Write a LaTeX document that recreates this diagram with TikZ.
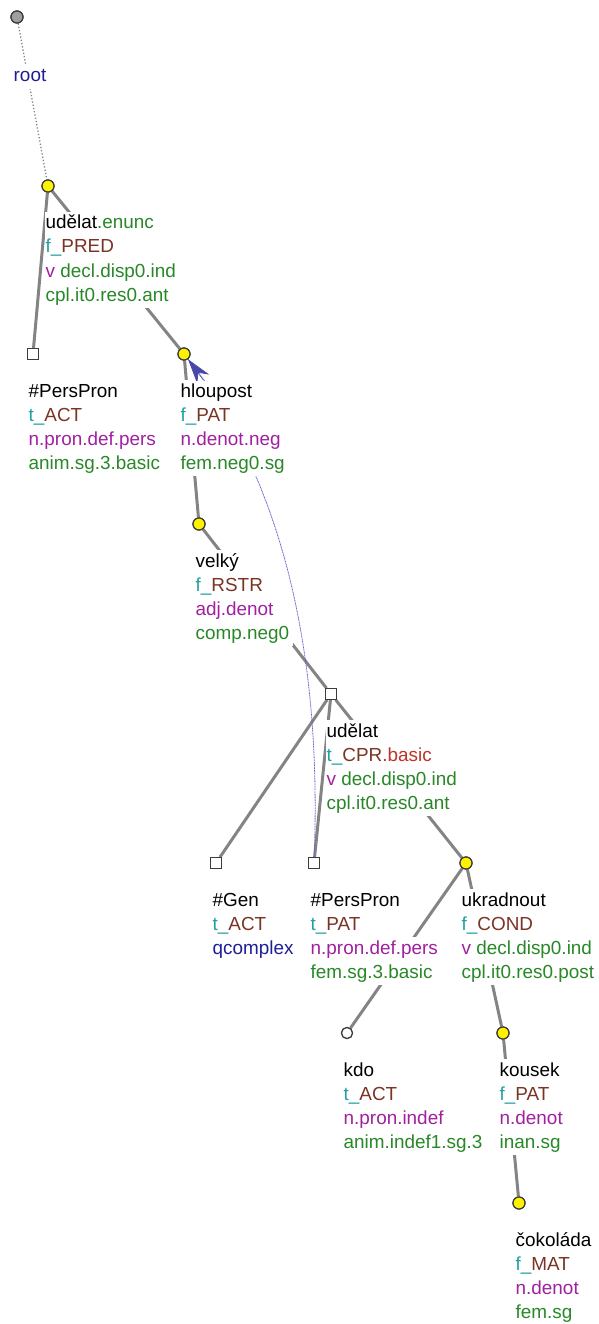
\documentclass[tikz,border=0pt]{standalone}
\usepackage{fontspec}
\setmainfont{Liberation Sans}
\usetikzlibrary{arrows.meta}
\pgfdeclarelayer{edges}
\pgfsetlayers{edges,main}
\definecolor{cteal}{RGB}{32,160,160}
\definecolor{cbrown}{RGB}{122,52,36}
\definecolor{cred}{RGB}{190,50,40}
\definecolor{cpurp}{RGB}{160,32,160}
\definecolor{cgreen}{RGB}{40,136,40}
\definecolor{cblue}{RGB}{30,30,150}
\definecolor{edgegray}{RGB}{132,132,132}
\definecolor{outl}{RGB}{60,60,60}
\definecolor{corefc}{RGB}{100,100,200}
\definecolor{arrowc}{RGB}{72,72,168}
\newcommand{\fu}[1]{\textcolor{cteal}{f\_}\textcolor{cbrown}{#1}}
\newcommand{\tu}[1]{\textcolor{cteal}{t\_}\textcolor{cbrown}{#1}}
\newcommand{\pu}[1]{\textcolor{cpurp}{#1}}
\newcommand{\gu}[1]{\textcolor{cgreen}{#1}}
\begin{document}
\begin{tikzpicture}[x=1pt,y=-1pt,
  lab/.style={anchor=base west, inner xsep=0.5pt, inner ysep=0pt, text height=17pt, text depth=7pt,
    fill=white, font=\fontsize{18.9}{22}\selectfont, execute at end node={\hspace*{3pt}}},
  edge/.style={draw=edgegray, line width=3pt},
  rootedge/.style={draw=edgegray, line width=1.3pt, dotted},
  yelnode/.style={circle, fill=yellow, draw=outl, line width=1.2pt, minimum size=12pt, inner sep=0pt},
  sqnode/.style={rectangle, fill=white, draw=outl, line width=1.2pt, minimum size=10.5pt, inner sep=0pt},
  whnode/.style={circle, fill=white, draw=outl, line width=1.2pt, minimum size=11pt, inner sep=0pt},
  rootnode/.style={circle, fill=gray!75, draw=outl, line width=1.2pt, minimum size=12pt, inner sep=0pt},
  coref/.style={draw=corefc, line width=0.8pt, dash pattern=on 1pt off 0.6pt},
  corefarrow/.style={draw=corefc, line width=0.8pt,
    -{Stealth[length=25pt, width=15pt, inset=8pt, color=arrowc]}}
]
\useasboundingbox (0,0) rectangle (598,1324);

% tree nodes (markers)
\node[rootnode] (n0) at (17,17) {};
\node[yelnode] (n1) at (48,186) {};
\node[sqnode] (n2) at (33,354) {};
\node[yelnode] (n3) at (184,354) {};
\node[yelnode] (n4) at (199,524) {};
\node[sqnode] (n5) at (331,694) {};
\node[sqnode] (n6) at (216,863) {};
\node[sqnode] (n7) at (314,863) {};
\node[yelnode] (n8) at (466,863) {};
\node[whnode] (n9) at (347,1033) {};
\node[yelnode] (n10) at (503,1033) {};
\node[yelnode] (n11) at (519,1203) {};

\begin{pgfonlayer}{edges}
\draw[rootedge] (n0) -- (n1);
\draw[edge] (n1) -- (n2);
\draw[edge] (n1) -- (n3);
\draw[edge] (n3) -- (n4);
\draw[edge] (n4) -- (n5);
\draw[edge] (n5) -- (n6);
\draw[edge] (n5) -- (n7);
\draw[edge] (n5) -- (n8);
\draw[edge] (n8) -- (n9);
\draw[edge] (n8) -- (n10);
\draw[edge] (n10) -- (n11);
% coreference curve
\draw[coref] (n7) .. controls (322,650) and (282,482) .. (n3);
\end{pgfonlayer}

% labels
\node[lab] (l0) at (13,82) {\textcolor{cblue}{root}};

\node[lab] (l1a) at (45,229) {udělat\gu{.enunc}};
\node[lab] (l1b) at (45,253) {\fu{PRED}};
\node[lab] (l1c) at (45,277) {\pu{v} \gu{decl.disp0.ind}};
\node[lab] (l1d) at (45,301) {\gu{cpl.it0.res0.ant}};

\node[lab] (l2a) at (28,397) {\#PersPron};
\node[lab] (l2b) at (28,421) {\tu{ACT}};
\node[lab] (l2c) at (28,445) {\pu{n.pron.def.pers}};
\node[lab] (l2d) at (28,469) {\gu{anim.sg.3.basic}};

\node[lab] (l3a) at (180,397) {hloupost};
\node[lab] (l3b) at (180,421) {\fu{PAT}};
\node[lab] (l3c) at (180,445) {\pu{n.denot.neg}};
\node[lab] (l3d) at (180,469) {\gu{fem.neg0.sg}};

\node[lab] (l4a) at (195,567) {velký};
\node[lab] (l4b) at (195,591) {\fu{RSTR}};
\node[lab] (l4c) at (195,615) {\pu{adj.denot}};
\node[lab] (l4d) at (195,639) {\gu{comp.neg0}};

\node[lab] (l5a) at (326,737) {udělat};
\node[lab] (l5b) at (326,761) {\tu{CPR}\textcolor{cred}{.basic}};
\node[lab] (l5c) at (326,785) {\pu{v} \gu{decl.disp0.ind}};
\node[lab] (l5d) at (326,809) {\gu{cpl.it0.res0.ant}};

\node[lab] (l6a) at (212,906) {\#Gen};
\node[lab] (l6b) at (212,930) {\tu{ACT}};
\node[lab] (l6c) at (212,954) {\textcolor{cblue}{qcomplex}};

\node[lab] (l7a) at (310,906) {\#PersPron};
\node[lab] (l7b) at (310,930) {\tu{PAT}};
\node[lab] (l7c) at (310,954) {\pu{n.pron.def.pers}};
\node[lab] (l7d) at (310,978) {\gu{fem.sg.3.basic}};

\node[lab] (l8a) at (461,906) {ukradnout};
\node[lab] (l8b) at (461,930) {\fu{COND}};
\node[lab] (l8c) at (461,954) {\pu{v} \gu{decl.disp0.ind}};
\node[lab] (l8d) at (461,978) {\gu{cpl.it0.res0.post}};

\node[lab] (l9a) at (343,1076) {kdo};
\node[lab] (l9b) at (343,1100) {\tu{ACT}};
\node[lab] (l9c) at (343,1124) {\pu{n.pron.indef}};
\node[lab] (l9d) at (343,1148) {\gu{anim.indef1.sg.3}};

\node[lab] (l10a) at (499,1076) {kousek};
\node[lab] (l10b) at (499,1100) {\fu{PAT}};
\node[lab] (l10c) at (499,1124) {\pu{n.denot}};
\node[lab] (l10d) at (499,1148) {\gu{inan.sg}};

\node[lab] (l11a) at (515,1246) {čokoláda};
\node[lab] (l11b) at (515,1270) {\fu{MAT}};
\node[lab] (l11c) at (515,1294) {\pu{n.denot}};
\node[lab] (l11d) at (515,1318) {\gu{fem.sg}};

% arrowhead of the coreference curve, above the label boxes
\begin{scope}
  \clip (150,330) rectangle (240,380);
  \draw[corefarrow] (n7) .. controls (322,650) and (282,482) .. (n3);
\end{scope}

% redraw markers on top
\node[rootnode] at (n0) {};
\node[yelnode] at (n1) {};
\node[sqnode] at (n2) {};
\node[yelnode] at (n3) {};
\node[yelnode] at (n4) {};
\node[sqnode] at (n5) {};
\node[sqnode] at (n6) {};
\node[sqnode] at (n7) {};
\node[yelnode] at (n8) {};
\node[whnode] at (n9) {};
\node[yelnode] at (n10) {};
\node[yelnode] at (n11) {};
\end{tikzpicture}
\end{document}
